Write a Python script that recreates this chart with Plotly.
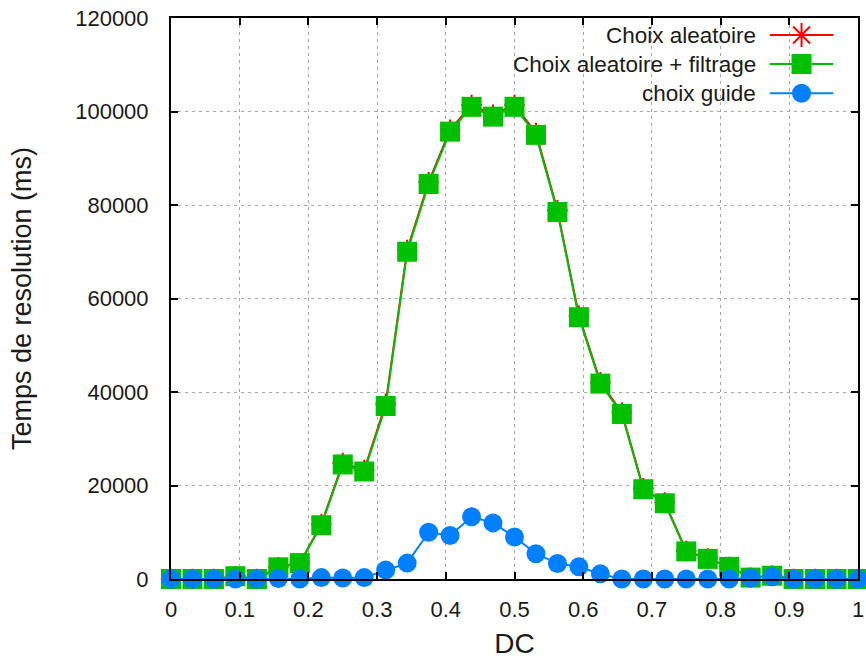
import plotly.graph_objects as go

# DC values: 33 evenly spaced samples on [0, 1]
dc = [i / 32 for i in range(33)]

# Resolution time (ms) per strategy
temps_aleatoire = [0, 0, 0, 600, 0, 2500, 3400, 11700, 24800, 23300, 37500, 70400,
                   84900, 96100, 101400, 99300, 101400, 95400, 78900, 56300, 42100,
                   35600, 19400, 16400, 6000, 4400, 2600, 300, 700, 0, 0, 0, 0]
temps_filtrage = [0, 0, 0, 600, 0, 2500, 3400, 11500, 24500, 23000, 37000, 70000,
                  84500, 95700, 101000, 98900, 101000, 95000, 78500, 56000, 41800,
                  35300, 19200, 16200, 5900, 4300, 2600, 300, 700, 0, 0, 0, 0]
temps_guide = [0, 0, 0, 0, 0, 100, 0, 300, 200, 300, 1900, 3400, 10000, 9300, 13300,
               12000, 9000, 5400, 3300, 2600, 1100, 0, 0, 0, 0, 0, 0, 200, 500, 0, 0, 0, 0]

series_names = ["Choix aleatoire", "Choix aleatoire + filtrage", "choix guide"]
series_colors = ["#ff0000", "#00c000", "#0080ff"]
series_symbols = ["asterisk-open", "square", "circle"]
series_sizes = [17, 20, 19]       # marker sizes on the curves
key_sizes = [20, 20, 19]          # marker sizes in the key
series_values = [temps_aleatoire, temps_filtrage, temps_guide]

x_ticks = [0, 0.1, 0.2, 0.3, 0.4, 0.5, 0.6, 0.7, 0.8, 0.9, 1]
x_tick_text = ["0", "0.1", "0.2", "0.3", "0.4", "0.5", "0.6", "0.7", "0.8", "0.9", "1"]
y_ticks = [0, 20000, 40000, 60000, 80000, 100000, 120000]
y_tick_text = ["0", "20000", "40000", "60000", "80000", "100000", "120000"]

FONT = "Liberation Sans, Arial, sans-serif"
TEXT_COLOR = "#1a1a1a"


def marker_style(symbol, color, size):
    return dict(symbol=symbol, size=size, color=color, opacity=1,
                line=dict(color=color, width=2 if symbol == "asterisk-open" else 0))


fig = go.Figure()

for name, color, symbol, size, vals in zip(series_names, series_colors,
                                           series_symbols, series_sizes, series_values):
    fig.add_trace(go.Scatter(
        x=dc, y=vals, name=name, mode="lines+markers",
        line=dict(color=color, width=2),
        marker=marker_style(symbol, color, size),
        cliponaxis=False, showlegend=False,
    ))

# Key in the top-right corner: label on the left, line sample with marker on the right
key_rows = [0.9697, 0.918, 0.866]
key_x0, key_x1 = 0.8716, 0.964
key_mid = (key_x0 + key_x1) / 2
for name, color, symbol, size, ky in zip(series_names, series_colors,
                                         series_symbols, key_sizes, key_rows):
    fig.add_shape(type="line", xref="x2", yref="y2", x0=key_x0, x1=key_x1, y0=ky, y1=ky,
                  line=dict(color=color, width=2))
    fig.add_trace(go.Scatter(
        x=[key_mid], y=[ky], mode="markers", xaxis="x2", yaxis="y2",
        marker=marker_style(symbol, color, size),
        cliponaxis=False, showlegend=False, hoverinfo="skip",
    ))
    fig.add_annotation(
        x=0.855, y=ky, xref="x2", yref="y2", text=name, showarrow=False,
        xanchor="right", yanchor="middle",
        font=dict(family=FONT, size=22.5, color=TEXT_COLOR),
    )

grid_dash = "3px,4px"
axis_common = dict(
    showline=True, linecolor="black", linewidth=2, mirror="ticks",
    ticks="inside", ticklen=7, tickcolor="black", tickwidth=1.5,
    showgrid=True, gridcolor="#a8a8a8", gridwidth=1, griddash=grid_dash,
    zeroline=False, tickfont=dict(family=FONT, size=22, color=TEXT_COLOR),
    ticklabeloverflow="allow",
)

fig.update_layout(
    width=866, height=660,
    margin=dict(l=171, r=2, t=18, b=81),
    paper_bgcolor="white", plot_bgcolor="white",
    font=dict(family=FONT, size=22, color=TEXT_COLOR),
    xaxis=dict(
        range=[0, 1], tickvals=x_ticks, ticktext=x_tick_text,
        ticklabelstandoff=10,
        title=dict(text="DC", font=dict(family=FONT, size=28, color=TEXT_COLOR), standoff=12),
        **axis_common,
    ),
    yaxis=dict(
        range=[0, 120000], tickvals=y_ticks, ticktext=y_tick_text,
        ticklabelstandoff=16,
        title=dict(text="Temps de resolution (ms)",
                   font=dict(family=FONT, size=27, color=TEXT_COLOR), standoff=36),
        **axis_common,
    ),
    xaxis2=dict(overlaying="x", range=[0, 1], visible=False),
    yaxis2=dict(overlaying="y", range=[0, 1], visible=False),
)

fig.write_html("out.html")
